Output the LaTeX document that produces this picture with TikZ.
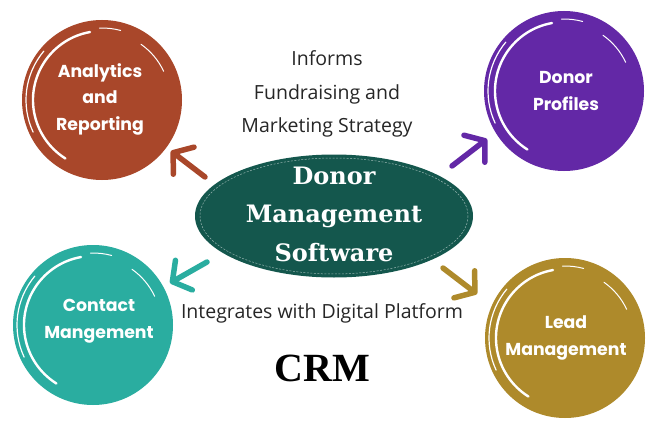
\documentclass[tikz,border=0pt]{standalone}
\usepackage{fontspec}
\setmainfont{Open Sans}
\newfontfamily\circfont{Poppins}
\newfontfamily\titlefont{DejaVu Serif}
\newfontfamily\crmfont{Liberation Serif}
\usetikzlibrary{arrows.meta,shapes.geometric}
\definecolor{cbrown}{HTML}{A9472A}
\definecolor{cpurple}{HTML}{6328A6}
\definecolor{cteal}{HTML}{2AADA0}
\definecolor{cgold}{HTML}{AE8A2B}
\definecolor{cgreen}{HTML}{14574D}
\tikzset{
  blob/.style={circle, fill=#1, minimum size=160pt, inner sep=0pt},
  blobtext/.style={text=white, font=\circfont\bfseries\fontsize{17.3}{26.5}\selectfont, align=center},
  lbl/.style={font=\fontsize{19.5}{33.5}\selectfont, align=center, text=black!85},
  arr/.style={line width=5.5pt, line cap=round, line join=round, draw=#1,
    -{Straight Barb[round, length=0pt 2.4, width=0pt 6.2]}},
  streak/.style={white, line cap=round},
}
\newcommand\brushmarks[1]{%
  \begin{scope}[shift={(#1.center)}]
    \draw[streak, line width=2.4pt] (-100:69) arc[start angle=-100, end angle=-238, radius=69];
    \draw[streak, line width=1.2pt] (-140:76) arc[start angle=-140, end angle=-205, radius=76];
    \draw[streak, line width=1pt] (-25:68) arc[start angle=-25, end angle=-55, radius=68];
    \draw[streak, line width=1pt] (-75:72) arc[start angle=-75, end angle=-92, radius=72];
  \end{scope}}
\begin{document}
\begin{tikzpicture}[x=1pt, y=-1pt]
\useasboundingbox[fill=white] (0,0) rectangle (650,425);

% circles
\node[blob=cbrown]  (an) at (102,100) {};
\node[blob=cpurple] (dp) at (564,91) {};
\node[blob=cteal]   (cm) at (93,325) {};
\node[blob=cgold]   (lm) at (565,338) {};
\brushmarks{an}\brushmarks{dp}\brushmarks{cm}\brushmarks{lm}

\node[blobtext] (ant) at (100,99) {Analytics\\and\\Reporting};
\node[blobtext] (dpt) at (566,91) {Donor\\Profiles};
\node[blobtext] (cmt) at (99,321) {Contact\\Mangement};
\node[blobtext] (lmt) at (566,338) {Lead\\Management};

% central ellipse
\node[ellipse, fill=cgreen, minimum width=278pt, minimum height=123pt, inner sep=0pt] (ell) at (334,216) {};
\draw[white, opacity=0.55, line width=0.5pt, dash pattern=on 2pt off 1.5pt] (ell.center) ellipse[x radius=134, y radius=58];
\node[text=white, font=\titlefont\bfseries\fontsize{24}{38.5}\selectfont, align=center] (ellt) at (334,214) {Donor\\Management\\Software};

% labels
\node[lbl] (inf) at (327,94) {Informs\\Fundraising and\\Marketing Strategy};
\node[lbl] (dig) at (322,313) {Integrates with Digital Platform};
\node[font=\crmfont\bfseries\fontsize{40}{40}\selectfont] (crm) at (322,368) {CRM};

% arrows
\coordinate (a1s) at (205,177); \coordinate (a1e) at (171,151);
\coordinate (a2s) at (452,166); \coordinate (a2e) at (487,139);
\coordinate (a3s) at (207,262); \coordinate (a3e) at (170,283);
\coordinate (a4s) at (443,268); \coordinate (a4e) at (477,294);
\draw[arr=cbrown]  (a1s) -- (a1e);
\draw[arr=cpurple] (a2s) -- (a2e);
\draw[arr=cteal]   (a3s) -- (a3e);
\draw[arr=cgold]   (a4s) -- (a4e);
\end{tikzpicture}
\end{document}
